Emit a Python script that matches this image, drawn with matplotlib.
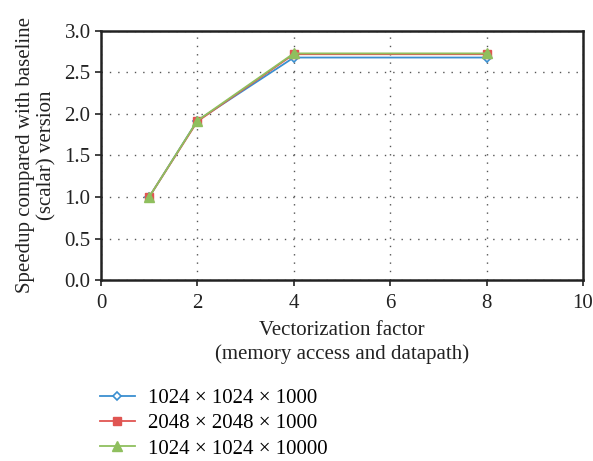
import numpy as np
import matplotlib.pyplot as plt

plt.rcParams['font.family'] = ['Liberation Serif', 'DejaVu Serif']
plt.rcParams['font.size'] = 15

# vectorization factors and measured speedups
factors = [1, 2, 4, 8]
speedup_1024_1000 = [1.0, 1.92, 2.68, 2.68]
speedup_2048_1000 = [1.0, 1.91, 2.72, 2.72]
speedup_1024_10000 = [1.0, 1.92, 2.73, 2.73]
labels = ["1024 \u00d7 1024 \u00d7 1000",
          "2048 \u00d7 2048 \u00d7 1000",
          "1024 \u00d7 1024 \u00d7 10000"]

fig = plt.figure(figsize=(5.93, 4.61), dpi=100)
ax = fig.add_axes([0.1703, 0.3926, 0.8127, 0.5402])

ax.plot(factors, speedup_1024_1000, color="#3a8fd0", linewidth=1.3, marker="D",
        markersize=4, markerfacecolor="white", markeredgewidth=1.2, label=labels[0])
ax.plot(factors, speedup_2048_1000, color="#e05552", linewidth=1.3, marker="s",
        markersize=6, label=labels[1])
ax.plot(factors, speedup_1024_10000, color="#8fbf5e", linewidth=1.3, marker="^",
        markersize=7, label=labels[2])

ax.set_xlim(0, 10)
ax.set_ylim(0, 3.0)
ax.set_xticks([0, 2, 4, 6, 8, 10])
ax.set_yticks(np.arange(0, 3.01, 0.5))
ax.set_yticklabels([f"{v:.1f}" for v in np.arange(0, 3.01, 0.5)])
ax.grid(True, linestyle=(0, (1, 5)), color="#555555", linewidth=1)
ax.set_axisbelow(True)
for s in ax.spines.values():
    s.set_linewidth(1.8)
    s.set_color("#222222")
ax.tick_params(direction="out", length=4, width=1.2, color="#222222", colors="#222222",
               labelsize=15)
ax.tick_params(axis="x", pad=6)

ax.set_xlabel("Vectorization factor\n(memory access and datapath)", color="#222222",
              labelpad=6, linespacing=1.25)
ax.set_ylabel("Speedup compared with baseline\n(scalar) version", color="#222222",
              labelpad=6, linespacing=1.15)

fig.legend(loc="upper left", bbox_to_anchor=(0.168, 0.157), frameon=False,
           borderpad=0, borderaxespad=0,
           handlelength=1.7, labelspacing=0.27, handletextpad=0.6, fontsize=15)

plt.savefig("out.png", dpi=100)
